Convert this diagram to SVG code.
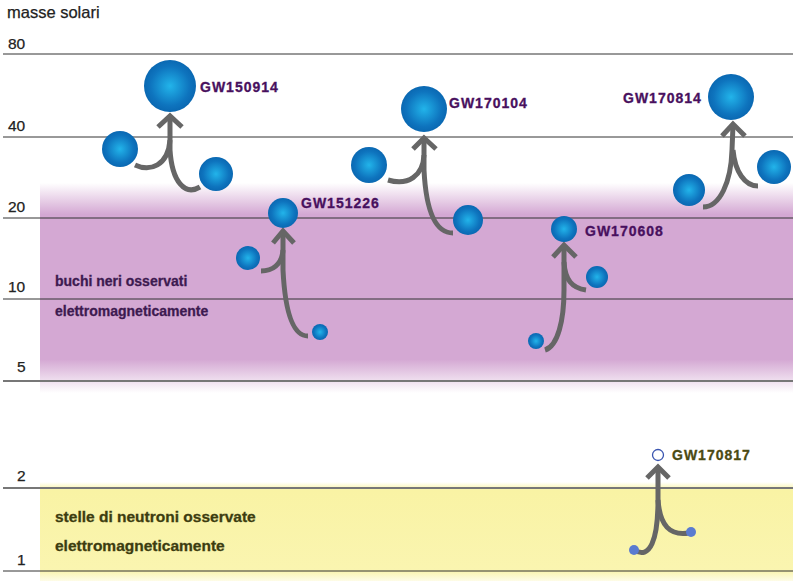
<svg xmlns="http://www.w3.org/2000/svg" width="800" height="586" viewBox="0 0 800 586">
<defs>
<radialGradient id="bh" cx="0.5" cy="0.5" r="0.5">
<stop offset="0" stop-color="#22b4ea"/>
<stop offset="0.75" stop-color="#0e74be"/>
<stop offset="1" stop-color="#0a68b2"/>
</radialGradient>
<linearGradient id="pband" x1="0" y1="183" x2="0" y2="393" gradientUnits="userSpaceOnUse">
<stop offset="0" stop-color="#d4a8d3" stop-opacity="0"/>
<stop offset="0.15" stop-color="#d4a8d3"/>
<stop offset="0.84" stop-color="#d4a8d3"/>
<stop offset="1" stop-color="#d4a8d3" stop-opacity="0"/>
</linearGradient>
<linearGradient id="yband" x1="0" y1="482" x2="0" y2="581" gradientUnits="userSpaceOnUse">
<stop offset="0" stop-color="#f9f3a4" stop-opacity="0"/>
<stop offset="0.08" stop-color="#f9f3a4"/>
<stop offset="0.9" stop-color="#faf5b0"/>
<stop offset="1" stop-color="#faf5b0" stop-opacity="0.3"/>
</linearGradient>
</defs>
<style>
.ax{font-family:"Liberation Sans",Arial,sans-serif;font-size:15.5px;fill:#222;stroke:#222;stroke-width:0.25}
.gw{font-family:"Liberation Sans",Arial,sans-serif;font-size:14px;font-weight:bold;fill:#48105e;stroke:#48105e;stroke-width:0.3;letter-spacing:1px}
.gn{font-family:"Liberation Sans",Arial,sans-serif;font-size:14px;font-weight:bold;fill:#4a4a12;stroke:#4a4a12;stroke-width:0.3;letter-spacing:1px}
.bt{font-family:"Liberation Sans",Arial,sans-serif;font-size:14px;font-weight:bold;fill:#3d1a50;stroke:#3d1a50;stroke-width:0.3}
.nt{font-family:"Liberation Sans",Arial,sans-serif;font-size:15.5px;font-weight:bold;fill:#3d3d10;stroke:#3d3d10;stroke-width:0.3}
.gl{stroke:#333;stroke-width:1}
.gl2{stroke:#777;stroke-width:2}
.arr{fill:none;stroke:#666;stroke-width:5}
.bh{fill:url(#bh)}
.ns{fill:#5a7bd0}
</style>
<rect x="40" y="183" width="753" height="210" fill="url(#pband)"/>
<rect x="40" y="482" width="753" height="99" fill="url(#yband)"/>
<g id="grid">
<line class="gl" x1="3" y1="54" x2="793" y2="54"/>
<line class="gl" x1="3" y1="137" x2="793" y2="137"/>
<line class="gl" x1="3" y1="218" x2="793" y2="218"/>
<line class="gl" x1="3" y1="299" x2="793" y2="299"/>
<line class="gl2" x1="3" y1="381" x2="793" y2="381"/>
<line class="gl2" x1="3" y1="488" x2="793" y2="488"/>
<line class="gl" x1="3" y1="571" x2="793" y2="571"/>
</g>
<g id="axis">
<text class="ax" x="7" y="18" style="font-size:16.5px">masse solari</text>
<text class="ax" x="8" y="49">80</text>
<text class="ax" x="8" y="131">40</text>
<text class="ax" x="8" y="212">20</text>
<text class="ax" x="8" y="292">10</text>
<text class="ax" x="17" y="372">5</text>
<text class="ax" x="17" y="481">2</text>
<text class="ax" x="17" y="565">1</text>
</g>
<g id="band-labels">
<text class="bt" x="55" y="286">buchi neri osservati</text>
<text class="bt" x="55" y="316">elettromagneticamente</text>
<text class="nt" x="55" y="522">stelle di neutroni osservate</text>
<text class="nt" x="55" y="551">elettromagneticamente</text>
</g>
<g id="connectors">
<path class="arr" d="M200,187 C185,196 172,182 170,150 L170,118"/>
<path class="arr" d="M135,165 C150,172 168,166 170,140"/>
<path class="arr" d="M158,127 L170,116 L182,127"/>
<path class="arr" d="M308,336 C292,336 285,310 283,270 L283,231"/>
<path class="arr" d="M261,271 C272,271 282,265 283,250"/>
<path class="arr" d="M273,243 L283,231 L294,243"/>
<path class="arr" d="M453,233 C435,233 426,210 424,170 L424,139"/>
<path class="arr" d="M388,180 C408,186 423,176 424,155"/>
<path class="arr" d="M413,149 L424,138 L436,149"/>
<path class="arr" d="M545,350 C558,346 564,320 564,290 L564,245"/>
<path class="arr" d="M586,290 C572,288 565,280 564,262"/>
<path class="arr" d="M553,257 L564,245 L576,257"/>
<path class="arr" d="M703,207 C720,207 731,182 732,150 L733,125"/>
<path class="arr" d="M758,186 C745,186 735,172 733,150"/>
<path class="arr" d="M722,136 L733,124 L745,136"/>
<path class="arr" d="M634,550 C650,560 658,540 658,500 L658,467"/>
<path class="arr" d="M689,533 C670,536 660,526 658,500"/>
<path class="arr" d="M647,478 L658,467 L669,478"/>
</g>
<g id="GW150914">
<circle class="bh" cx="120" cy="149" r="18"/>
<circle class="bh" cx="216" cy="174" r="17"/>
<circle class="bh" cx="170" cy="86" r="26"/>
<text class="gw" x="200" y="92">GW150914</text>
</g>
<g id="GW151226">
<circle class="bh" cx="248" cy="258" r="12"/>
<circle class="bh" cx="320" cy="332" r="8"/>
<circle class="bh" cx="283" cy="213" r="15"/>
<text class="gw" x="301" y="208">GW151226</text>
</g>
<g id="GW170104">
<circle class="bh" cx="369" cy="165" r="18"/>
<circle class="bh" cx="468" cy="220" r="15"/>
<circle class="bh" cx="424" cy="109" r="23"/>
<text class="gw" x="449" y="108">GW170104</text>
</g>
<g id="GW170608">
<circle class="bh" cx="597" cy="277" r="11"/>
<circle class="bh" cx="536" cy="341" r="8"/>
<circle class="bh" cx="564" cy="229" r="13"/>
<text class="gw" x="585" y="236">GW170608</text>
</g>
<g id="GW170814">
<circle class="bh" cx="689" cy="190" r="16"/>
<circle class="bh" cx="774" cy="167" r="17"/>
<circle class="bh" cx="731" cy="97" r="23"/>
<text class="gw" x="623" y="103">GW170814</text>
</g>
<g id="GW170817">
<circle class="ns" cx="634" cy="550" r="5"/>
<circle class="ns" cx="691" cy="532" r="5"/>
<circle cx="658" cy="455" r="5.5" fill="#fff" stroke="#3a55b0" stroke-width="1.3"/>
<text class="gn" x="672" y="460">GW170817</text>
</g>
</svg>
